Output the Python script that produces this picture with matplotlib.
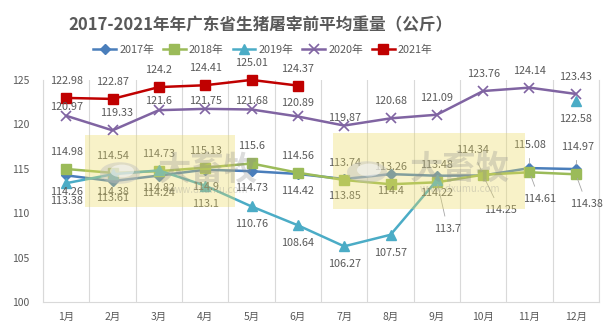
import numpy as np
import matplotlib
matplotlib.use("Agg")
import matplotlib.pyplot as plt
from matplotlib.patches import Rectangle, Circle

plt.rcParams['font.family'] = ['Noto Sans CJK SC', 'DejaVu Sans']

months = ['1月', '2月', '3月', '4月', '5月', '6月', '7月', '8月', '9月', '10月', '11月', '12月']
y2017 = [114.26, 113.61, 114.24, 114.9, 114.73, 114.42, 113.85, 114.4, 114.22, 114.25, 115.08, 114.97]
y2018 = [114.98, 114.54, 114.73, 115.13, 115.6, 114.56, 113.74, 113.26, 113.48, 114.34, 114.61, 114.38]
y2019 = [113.38, 114.38, 114.82, 113.1, 110.76, 108.64, 106.27, 107.57, 113.7, np.nan, np.nan, 122.58]
y2020 = [120.97, 119.33, 121.6, 121.75, 121.68, 120.89, 119.87, 120.68, 121.09, 123.76, 124.14, 123.43]
y2021 = [122.98, 122.87, 124.2, 124.41, 125.01, 124.37]
series_names = ['2017年', '2018年', '2019年', '2020年', '2021年']
title = '2017-2021年年广东省生猪屠宰前平均重量（公斤）'

W, H = 611, 328
fig = plt.figure(figsize=(W / 100, H / 100), dpi=100)
ax = fig.add_axes([43 / W, 1 - 302 / H, 556 / W, 222 / H])

grey = '#595959'
styles = [
    dict(color='#4A7EBB', marker='D', ms=5),
    dict(color='#9BBB59', marker='s', ms=6.5),
    dict(color='#4BACC6', marker='^', ms=6.5),
    dict(color='#8064A2', marker='x', ms=7, mew=1.2),
    dict(color='#C00000', marker='s', ms=7),
]
data = [y2017, y2018, y2019, y2020, y2021]
x = np.arange(len(months))

for name, ys, st in zip(series_names, data, styles):
    ax.plot(x[:len(ys)], ys, lw=1.8, label=name, clip_on=False, **st)

# label offsets in pixels (dx, dy); positive dy = up
default_dy = {0: -17, 1: 17, 2: -18, 3: 17, 4: 17}
override = {
    (3, 0): (0, 9), (3, 2): (0, 9), (3, 3): (0, 8), (3, 4): (0, 8),
    (3, 5): (0, 13), (3, 6): (0, 8), (3, 1): (4, 17),
}
leader = {
    (0, 9): (17, -35), (0, 10): (0, 23), (0, 11): (2, 22),
    (1, 9): (-11, 25), (1, 10): (10, -27), (1, 11): (11, -30),
    (2, 8): (11, -49),
}
for si, ys in enumerate(data):
    for i, v in enumerate(ys):
        if np.isnan(v):
            continue
        txt = f'{v:g}'
        if (si, i) in leader:
            dx, dy = leader[(si, i)]
            ax.annotate(txt, (i, v), xytext=(dx, dy), textcoords='offset pixels',
                        ha='center', va='center', fontsize=7.8, color=grey,
                        annotation_clip=False,
                        arrowprops=dict(arrowstyle='-', color='#A6A6A6', lw=0.6,
                                        shrinkA=4, shrinkB=3))
        else:
            dx, dy = override.get((si, i), (0, default_dy[si]))
            ax.annotate(txt, (i, v), xytext=(dx, dy), textcoords='offset pixels',
                        ha='center', va='center', fontsize=7.8, color=grey,
                        annotation_clip=False)

ax.set_xlim(-0.5, 11.5)
ax.set_ylim(100, 125)
ax.set_yticks(np.arange(100, 126, 5))
ax.set_xticks(x)
ax.set_xticklabels(months)
ax.set_xticks(np.arange(-0.5, 12, 1), minor=True)
ax.grid(True, which='minor', axis='x', color='#D9D9D9', lw=0.8)
ax.tick_params(axis='both', which='both', length=0, colors=grey, labelsize=7.5)
ax.tick_params(axis='y', pad=10)
ax.tick_params(axis='x', pad=7)
ax.spines['top'].set_visible(False)
for s in ['left', 'bottom', 'right']:
    ax.spines[s].set_color('#D9D9D9')
    ax.spines[s].set_linewidth(0.8)

fig.text(260 / W, 1 - 25 / H, title, ha='center', va='center', fontsize=12,
         fontweight='bold', color=grey)
fig.legend(loc='center', bbox_to_anchor=(263 / W, 1 - 50 / H), ncol=5, frameon=False,
           fontsize=7.8, handlelength=2.1, columnspacing=0.8, handletextpad=0.3,
           labelcolor=grey)

# watermark overlays
for (x0, y0, x1, y1) in [(85, 135, 235, 207), (333, 133, 525, 209)]:
    fig.add_artist(Rectangle((x0 / W, 1 - y1 / H), (x1 - x0) / W, (y1 - y0) / H,
                             transform=fig.transFigure, facecolor='#EBDC64',
                             alpha=0.35, edgecolor='none', zorder=10))
for (cx, cy, tx) in [(120, 173, 208), (367, 172, 460)]:
    fig.add_artist(Circle((cx / W, 1 - cy / H), 20 / W, transform=fig.transFigure,
                          facecolor='#BFBFBF', alpha=0.45, edgecolor='none', zorder=11))
    fig.add_artist(Circle(((cx + 2) / W, 1 - (cy - 2) / H), 12 / W, transform=fig.transFigure,
                          facecolor='white', alpha=0.5, edgecolor='none', zorder=11))
    fig.text(tx / W, 1 - (cy - 3) / H, '大畜牧', ha='center', va='center', fontsize=24,
             fontweight='bold', color='#8C8C8C', alpha=0.3, zorder=11)
    fig.text(tx / W, 1 - (cy + 17) / H, 'www.dxumu.com', ha='center', va='center',
             fontsize=7, color='#8C8C8C', alpha=0.3, zorder=11)

fig.savefig('out.png', dpi=100)
